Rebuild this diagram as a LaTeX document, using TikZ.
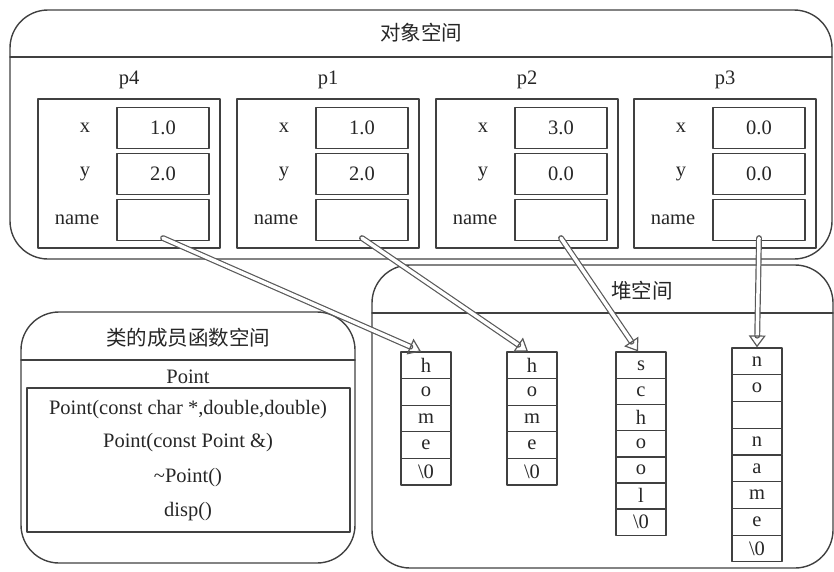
\documentclass[tikz,border=0pt]{standalone}
\usepackage{fontspec}
\setmainfont{Liberation Serif}
\newfontfamily\zhfont{Noto Sans CJK SC}
\usetikzlibrary{arrows.meta}
\usetikzlibrary{calc}

\begin{document}
\begin{tikzpicture}[x=1pt,y=-1pt,line join=round,line cap=round,
    every node/.style={font=\fontsize{20.5}{24}\selectfont,text=black!85},
    frame/.style={draw=black!75,line width=1.4pt,rounded corners=38pt},
    objbox/.style={draw=black!75,line width=1.2pt},
    val/.style={draw=black!75,line width=1.2pt,minimum width=92pt,minimum height=41pt,inner sep=0pt},
    cell/.style={draw=black!75,line width=1.2pt,minimum width=50pt,minimum height=26.6pt,inner sep=0pt},
    ptr/.style={draw=black!65,line width=1.2pt,double=white,double distance=3.5pt,
        -{Triangle[open,length=12pt,width=17pt]}}]
    \useasboundingbox (0,0) rectangle (834,571);
    % 对象空间
    \draw[frame] (10,10) rectangle (832,259);
    \draw[black!75,line width=1.4pt] (10,57)--(832,57);
    \node (objtitle) at (421,33) {\zhfont 对象空间};
    \foreach \p/\l/\xv/\yv in {p4/38/1.0/2.0,p1/237/1.0/2.0,p2/436/3.0/0.0,p3/634/0.0/0.0}{
            \node (\p) at (\l+91,80) {\p};
            \draw[objbox] (\l,99) rectangle ++(182,149);
            \node (\p lx) at (\l+47,128) {x};
            \node (\p ly) at (\l+47,174) {y};
            \node (\p ln) at (\l+39,220) {name};
            \node[val] (\p x) at (\l+125,128) {\xv};
            \node[val] (\p y) at (\l+125,174) {\yv};
            \node[val] (\p n) at (\l+125,220) {};
        }
    % 类的成员函数空间
    \draw[frame] (21,312) rectangle (355,563);
    \draw[black!75,line width=1.4pt] (21,360)--(355,360);
    \node (funtitle) at (188,338) {\zhfont 类的成员函数空间};
    \node (cls) at (188,377) {Point};
    \draw[objbox] (27,388) rectangle (350,532);
    \node (f1) at (188,410) {Point(const char *,double,double)};
    \node (f2) at (188,443) {Point(const Point \&)};
    \node (f3) at (188,478) {\char`\~Point()};
    \node (f4) at (188,512) {disp()};
    % 堆空间
    \draw[frame] (372,265) rectangle (833,568);
    \draw[black!75,line width=1.4pt] (372,313)--(833,313);
    \node (heaptitle) at (642,291) {\zhfont 堆空间};
    \foreach \c[count=\i] in {h,o,m,e,\textbackslash0}
    \node[cell] (a\i) at (426,{365.3+26.6*(\i-1)}) {\c};
    \foreach \c[count=\i] in {h,o,m,e,\textbackslash0}
    \node[cell] (b\i) at (532,{365.3+26.6*(\i-1)}) {\c};
    \foreach \c[count=\i] in {s,c,h,o,o,l,\textbackslash0}
    \node[cell] (c\i) at (641,{365.3+26.1*(\i-1)}) {\c};
    \foreach \c[count=\i] in {n,o,{},n,a,m,e,\textbackslash0}
    \node[cell] (d\i) at (757,{361.3+26.75*(\i-1)}) {\c};
    % 指针
    \draw[ptr] ($(p4n.south)+(0,-3)$) -- ($(a1.north)+(-5,0)$);
    \draw[ptr] ($(p1n.south)+(0,-3)$) -- ($(b1.north)+(-4,0)$);
    \draw[ptr] ($(p2n.south)+(0,-3)$) -- ($(c1.north)+(-3,0)$);
    \draw[ptr] ($(p3n.south)+(0,-3)$) -- (d1.north);
\end{tikzpicture}
\end{document}
